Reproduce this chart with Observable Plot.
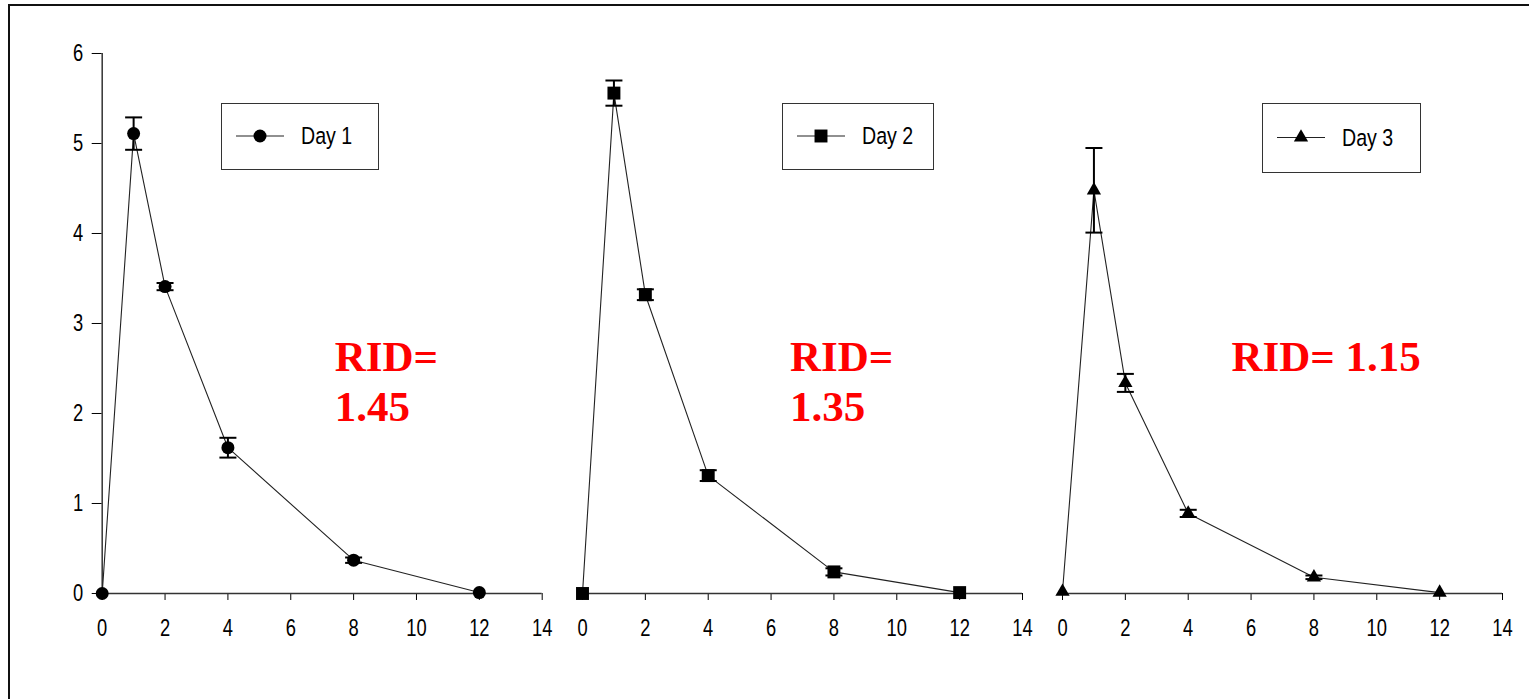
<!DOCTYPE html>
<html><head><meta charset="utf-8">
<script src="https://cdn.jsdelivr.net/npm/d3@7"></script>
<script src="https://cdn.jsdelivr.net/npm/@observablehq/plot@0.6"></script>
<style>
html,body{margin:0;padding:0;background:#fff;width:1529px;height:699px;overflow:hidden;}
#wrap{position:relative;width:1529px;height:699px;overflow:hidden;}
#frame{position:absolute;left:8px;top:4px;width:1600px;height:800px;border:2.5px solid #111;box-sizing:border-box;}
.panel{position:absolute;top:0;}
.legend{position:absolute;border:1.5px solid #333;box-sizing:border-box;background:#fff;}
.legend svg{position:absolute;left:0;top:0;overflow:visible;}
.legend span{position:absolute;left:79px;top:-1px;bottom:0;display:flex;align-items:center;font-size:24.5px;font-family:"Liberation Sans",Arial,sans-serif;color:#000;transform:scaleX(0.8);transform-origin:left center;}
</style></head><body><div id="wrap"><div id="frame"></div></div>
<script>
// ---- data ----
const hours = [0, 1, 2, 4, 8, 12];
const days = ["Day 1", "Day 2", "Day 3"];
const meanDay1 = [0.00, 5.11, 3.41, 1.62, 0.37, 0.01];
const errDay1  = [0.00, 0.18, 0.04, 0.11, 0.03, 0.00];
const meanDay2 = [0.00, 5.56, 3.32, 1.31, 0.24, 0.01];
const errDay2  = [0.00, 0.14, 0.06, 0.06, 0.04, 0.00];
const meanDay3 = [0.02, 4.48, 2.34, 0.89, 0.18, 0.01];
const errDay3  = [0.00, 0.47, 0.10, 0.04, 0.02, 0.00];
const ridLabels = ["RID=\n1.45", "RID=\n1.35", "RID= 1.15"];
const xTicks = [0, 2, 4, 6, 8, 10, 12, 14];
const yTicks = [0, 1, 2, 3, 4, 5, 6];

// ---- presentation ----
const FONT = '"Liberation Sans",Arial,sans-serif';
const means = [meanDay1, meanDay2, meanDay3];
const errs = [errDay1, errDay2, errDay3];
const symbols = ["circle", "square", "triangle"];
const d3Symbols = [d3.symbolCircle, d3.symbolSquare, d3.symbolTriangle];
const radii = [6.5, 7.3, 5.3];
const frameLeft = [101.7, 581.7, 1061.7];
const frameWidth = 440;
const ridOffset = [232.5, 207.5, 169];
const legendBoxes = [
  {l: 221, t: 103, w: 158, h: 67},
  {l: 782, t: 103, w: 152, h: 67},
  {l: 1262, t: 103, w: 159, h: 70}
];
const capSymbol = {draw(ctx, size) { const w = Math.sqrt(size / Math.PI); ctx.moveTo(-w, 0); ctx.lineTo(w, 0); }};

const wrap = document.getElementById("wrap");

days.forEach((day, i) => {
  const rows = hours.map((h, k) => ({h, v: means[i][k], e: errs[i][k]}));
  const errRows = rows.filter(d => d.e > 0);
  const ml = i === 0 ? frameLeft[0] : 20;
  const mr = 20;
  const marks = [
    Plot.ruleY([0], {stroke: "#333", strokeWidth: 1.5}),
  ];
  if (i === 0) marks.push(Plot.ruleX([0], {stroke: "#333", strokeWidth: 1.5}));
  marks.push(
    Plot.line(rows, {x: "h", y: "v", stroke: "#222", strokeWidth: 1.1}),
    Plot.ruleX(errRows, {x: "h", y1: d => d.v - d.e, y2: d => d.v + d.e, stroke: "#000", strokeWidth: 2}),
    Plot.dot(errRows, {x: "h", y: d => d.v + d.e, symbol: capSymbol, r: 8.5, fill: "none", stroke: "#000", strokeWidth: 2}),
    Plot.dot(errRows, {x: "h", y: d => d.v - d.e, symbol: capSymbol, r: 8.5, fill: "none", stroke: "#000", strokeWidth: 2}),
    Plot.dot(rows, {x: "h", y: "v", symbol: symbols[i], r: radii[i], fill: "#000", stroke: "none"}),
    Plot.text([ridLabels[i]], {
      text: d => d, frameAnchor: "top-left", dx: ridOffset[i], dy: 281.5,
      textAnchor: "start", lineAnchor: "top", lineHeight: 1.17,
      fill: "#ff0000", fontFamily: '"Liberation Serif","Times New Roman",serif',
      fontWeight: "bold", fontSize: 43
    })
  );
  const chart = Plot.plot({
    width: ml + frameWidth + mr,
    height: 699,
    marginLeft: ml, marginRight: mr, marginTop: 53, marginBottom: 106,
    style: {background: "transparent", fontFamily: FONT, fontSize: "23.5px", color: "#000", overflow: "visible"},
    x: {domain: [0, 14], ticks: xTicks, tickSize: 7, tickPadding: 19, label: null, tickFormat: d => String(d)},
    y: i === 0
      ? {domain: [0, 6], ticks: yTicks, tickSize: 10, tickPadding: 9, label: null, tickFormat: d => String(d)}
      : {domain: [0, 6], axis: null},
    marks
  });
  chart.classList.add("panel");
  chart.style.left = (frameLeft[i] - ml) + "px";
  chart.style.position = "absolute";
  chart.style.top = "0px";
  wrap.appendChild(chart);

  // condense the axis tick labels horizontally (the original uses a narrow sans face)
  chart.querySelectorAll("text").forEach(t => {
    const g = t.closest('g[aria-label="text"]');
    if (g) return;
    const L = t.getComputedTextLength();
    if (L > 0) {
      t.setAttribute("textLength", (L * 0.78).toFixed(2));
      t.setAttribute("lengthAdjust", "spacingAndGlyphs");
    }
  });

  // legend box
  const b = legendBoxes[i];
  const lg = document.createElement("div");
  lg.className = "legend";
  Object.assign(lg.style, {left: b.l + "px", top: b.t + "px", width: b.w + "px", height: b.h + "px"});
  const cy = b.h / 2 - 1.5;
  const svg = d3.create("svg").attr("width", 80).attr("height", b.h);
  svg.append("line").attr("x1", 14).attr("x2", 62).attr("y1", cy).attr("y2", cy).attr("stroke", "#222").attr("stroke-width", 1.2);
  svg.append("path").attr("transform", `translate(38,${cy})`)
    .attr("d", d3.symbol(d3Symbols[i], Math.PI * radii[i] * radii[i])()).attr("fill", "#000");
  lg.appendChild(svg.node());
  const sp = document.createElement("span");
  sp.textContent = day;
  lg.appendChild(sp);
  wrap.appendChild(lg);
});
</script></body></html>
